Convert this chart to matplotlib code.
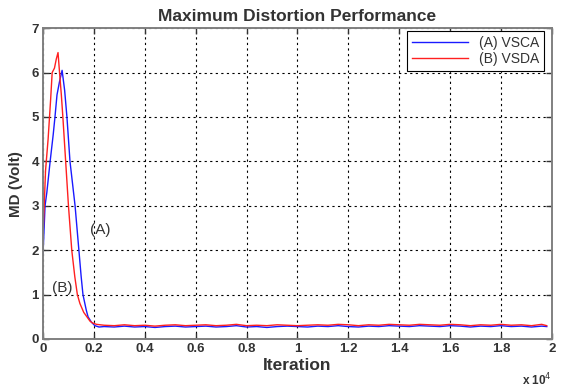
import matplotlib
matplotlib.use('Agg')
from matplotlib import pyplot as plt
from matplotlib.ticker import FuncFormatter

# Значения (итерации и MD в вольтах).
vsca_iter = [0, 80, 150, 280, 400, 470, 550, 650, 750, 850, 940, 1060, 1160, 1260,
             1410, 1500, 1570, 1700, 1770, 1900, 2040, 2200]
vsca_md = [1.9, 3.0, 3.3, 4.0, 4.6, 5.0, 5.5, 5.8, 6.05, 5.6, 5.0, 4.0, 3.5, 3.0,
           2.0, 1.4, 1.0, 0.65, 0.5, 0.38, 0.30, 0.27]

vsda_iter = [0, 100, 200, 300, 360, 450, 520, 590, 650, 720, 780, 890, 1000, 1130,
             1250, 1350, 1450, 1600, 1750, 1850, 1950, 2100]
vsda_md = [2.3, 3.8, 4.5, 5.4, 6.0, 6.1, 6.3, 6.45, 6.0, 5.5, 5.0, 4.0, 3.0, 2.0,
           1.4, 1.0, 0.8, 0.6, 0.48, 0.4, 0.36, 0.33]

# Установившийся режим, отсчёты каждые 400 итераций.
steady_iter = list(range(2400, 20000, 400)) + [19800]
vsca_steady = [0.28, 0.27, 0.29, 0.27, 0.28, 0.26, 0.28, 0.29, 0.27, 0.28,
               0.29, 0.27, 0.28, 0.30, 0.27, 0.28, 0.26, 0.28, 0.29, 0.28,
               0.27, 0.29, 0.28, 0.30, 0.28, 0.27, 0.29, 0.28, 0.30, 0.29,
               0.28, 0.30, 0.29, 0.28, 0.30, 0.29, 0.27, 0.29, 0.28, 0.30,
               0.28, 0.29, 0.27, 0.29, 0.28]
vsda_steady = [0.31, 0.30, 0.32, 0.30, 0.31, 0.29, 0.31, 0.32, 0.30, 0.31,
               0.32, 0.30, 0.31, 0.33, 0.30, 0.31, 0.30, 0.32, 0.31, 0.30,
               0.31, 0.32, 0.31, 0.33, 0.32, 0.30, 0.32, 0.31, 0.33, 0.32,
               0.31, 0.33, 0.32, 0.31, 0.33, 0.32, 0.30, 0.32, 0.31, 0.33,
               0.31, 0.32, 0.30, 0.33, 0.30]

plt.rcParams['font.family'] = ['Liberation Sans', 'DejaVu Sans']
txt = '#333333'

fig = plt.figure(figsize=(5.66, 3.91), dpi=100)
ax = fig.add_axes([0.076, 0.133, 0.899, 0.795])

ax.plot(vsca_iter + steady_iter, vsca_md + vsca_steady, color='#1a1aff', lw=1.0,
        label='(A) VSCA')
ax.plot(vsda_iter + steady_iter, vsda_md + vsda_steady, color='#ff2020', lw=1.0,
        label='(B) VSDA')

ax.set_xlim(0, 20000)
ax.set_ylim(0, 7)
ax.set_xticks(range(0, 20001, 2000))
ax.set_yticks(range(0, 8))
ax.xaxis.set_major_formatter(FuncFormatter(lambda v, p: f'{v / 1e4:g}'))

ax.grid(True, color='black', linestyle=(0, (2, 3)), linewidth=0.8)
ax.tick_params(direction='in', top=True, right=True, length=4, width=1,
               labelsize=9.5, colors=txt, pad=3)
for lab in ax.get_xticklabels() + ax.get_yticklabels():
    lab.set_fontweight('bold')
for sp in ax.spines.values():
    sp.set_color('#808080')
    sp.set_linewidth(1.4)

ax.set_title('Maximum Distortion Performance', fontsize=12.5, fontweight='bold',
             color=txt, pad=5)
ax.set_xlabel('Iteration', fontsize=12.5, fontweight='bold', color=txt, labelpad=2)
ax.set_ylabel('MD (Volt)', fontsize=11, fontweight='bold', color=txt, labelpad=6)
ax.text(1.0, -0.105, r'x 10$^4$', transform=ax.transAxes, ha='right', va='top',
        fontsize=8.5, fontweight='bold', color=txt)

ax.text(2240, 2.45, '(A)', fontsize=11, ha='center', va='center', color=txt)
ax.text(750, 1.15, '(B)', fontsize=11, ha='center', va='center', color=txt)

leg = ax.legend(loc='upper right', bbox_to_anchor=(0.99, 1.0), fontsize=10,
                fancybox=False, framealpha=1, edgecolor='black', borderpad=0.35,
                handlelength=4.0, labelspacing=0.15, borderaxespad=0.2)
leg.get_frame().set_linewidth(0.8)
for t in leg.get_texts():
    t.set_color(txt)

fig.savefig('out.png', dpi=100)
